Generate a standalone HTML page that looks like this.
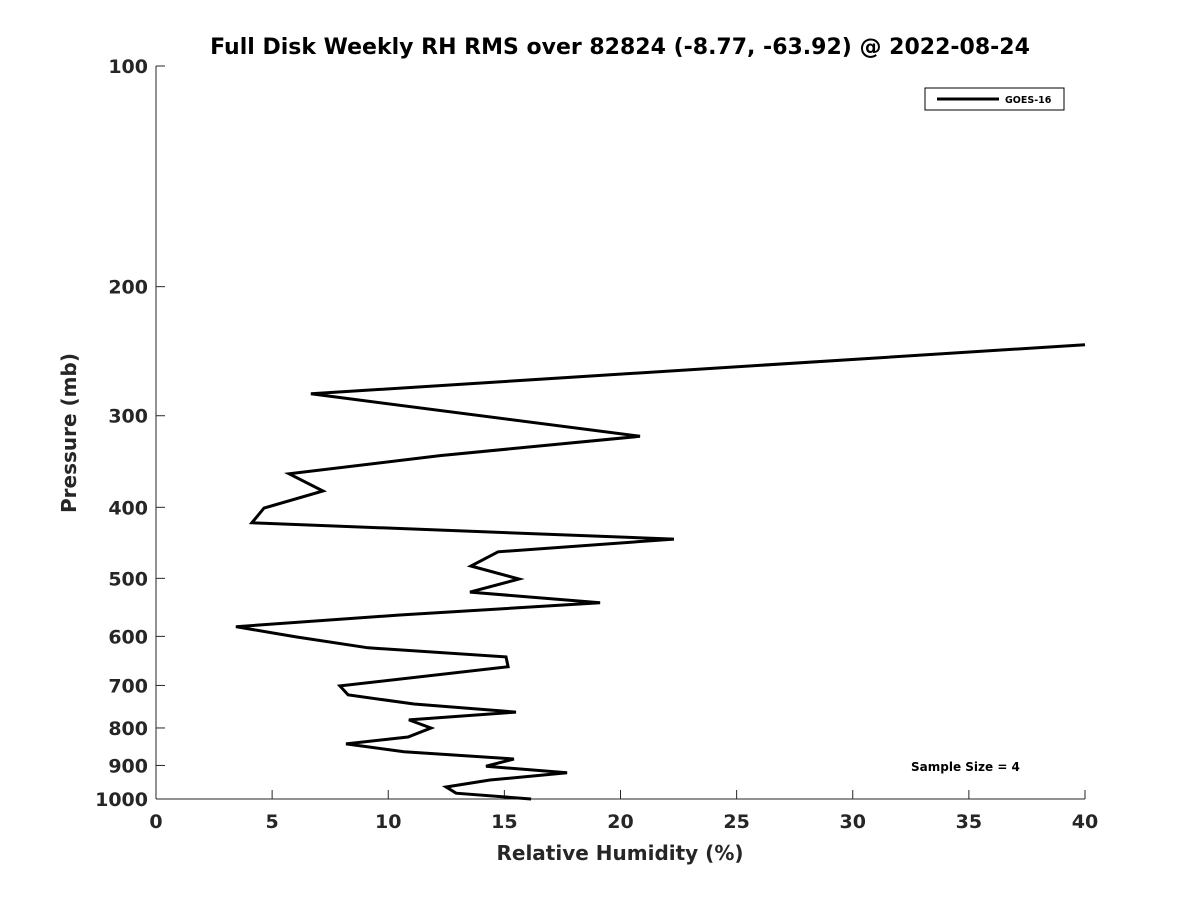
<!DOCTYPE html>
<html><head><meta charset="utf-8"><style>
body{margin:0;background:#fff;}
svg{display:block;font-family:"DejaVu Sans","Liberation Sans",sans-serif;font-weight:bold;}
</style></head><body>
<svg id="chart" width="1200" height="900">
<text x="620" y="54" font-size="22" text-anchor="middle" fill="#000">Full Disk Weekly RH RMS over 82824 (-8.77, -63.92) @ 2022-08-24</text>
<g id="axes"></g>
<text x="620" y="860" font-size="20" text-anchor="middle" fill="#262626">Relative Humidity (%)</text>
<text transform="translate(76,433) rotate(-90)" font-size="20" text-anchor="middle" fill="#262626">Pressure (mb)</text>
<g>
<rect x="925" y="88" width="139" height="22" fill="#fff" stroke="#000" stroke-width="1"/>
<line x1="937" y1="99" x2="999" y2="99" stroke="#000" stroke-width="3"/>
<text x="1005" y="103" font-size="9.5" fill="#000">GOES-16</text>
</g>
<text x="911" y="771" font-size="12" fill="#000">Sample Size = 4</text>
</svg>
<script>
const xTicks=[0,5,10,15,20,25,30,35,40];
const yTicks=[100,200,300,400,500,600,700,800,900,1000];
const pressure=[240,280,320,340,360,380,401,420,442,460,481,501,522,540,561,582,601,622,640,660,701,721,742,761,780,800,823,841,862,882,902,921,942,963,982,1000];
const rh=[40,6.67,20.84,12.23,5.73,7.19,4.65,4.13,22.3,14.73,13.56,15.63,13.52,19.12,10.5,3.44,6.03,9.13,15.07,15.16,7.92,8.27,11.11,15.5,10.89,11.84,10.85,8.18,10.68,15.41,14.21,17.7,14.38,12.49,12.92,16.15];
const L=156,R=1085,T=66,B=799;
const xs=v=>L+(v-0)/40*(R-L);
const ys=p=>T+(Math.log10(p)-2)*(B-T);
const NS="http://www.w3.org/2000/svg";
const g=document.getElementById('axes');
function mk(tag,attrs,parent){const e=document.createElementNS(NS,tag);for(const k in attrs)e.setAttribute(k,attrs[k]);(parent||g).appendChild(e);return e;}
const xa=mk('line',{x1:L,y1:B,x2:R,y2:B,stroke:'#262626','stroke-width':1});


const ya=mk('line',{x1:L,y1:T,x2:L,y2:B,stroke:'#262626','stroke-width':1});


xTicks.forEach(v=>{
 mk('line',{x1:xs(v),y1:B,x2:xs(v),y2:B-9,stroke:'#262626'});
 const t=mk('text',{x:xs(v),y:B+29,'font-size':19,'text-anchor':'middle',fill:'#262626'});
 t.textContent=v;
 
 
});
yTicks.forEach(p=>{
 mk('line',{x1:L,y1:ys(p),x2:L+9,y2:ys(p),stroke:'#262626'});
 const t=mk('text',{x:L-8,y:ys(p)+7,'font-size':19,'text-anchor':'end',fill:'#262626'});
 t.textContent=p;
 
 
});
const pts=pressure.map((p,i)=>xs(Math.min(rh[i],40)).toFixed(1)+','+ys(p).toFixed(1)).join(' ');
const line=mk('polyline',{points:pts,fill:'none',stroke:'#000','stroke-width':3,'stroke-linejoin':'miter'});


</script>
</body></html>
